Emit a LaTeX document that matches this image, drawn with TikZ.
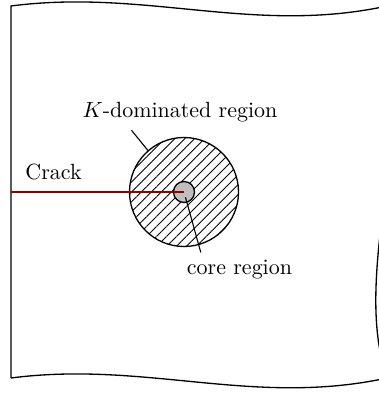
\documentclass[tikz,border=0pt]{standalone}
\usepackage{xcolor}
\usepackage{tikz}
\usetikzlibrary{patterns.meta}
\definecolor{crackred}{RGB}{139,0,0}

\begin{document}
\begin{tikzpicture}[
        plate/.style={semithick},
        hatched/.style={pattern={Lines[angle=45, distance=3.2pt, line width=0.4pt]}},
        leader/.style={line width=0.5pt}]
    \clip (0,0) rectangle (6.064,6.288);
    % plate, cut on three sides
    \draw[plate] (0.176,0.24) -- (0.176,6.192)
        .. controls (2.4,6.48) and (4.16,5.68) .. (6.4,6.24)
        .. controls (6.528,4.048) and (5.6,1.648) .. (6.24,0.128);
    \draw[plate] (0.176,0.24)
        .. controls (2.4,0.528) and (4.16,-0.272) .. (6.4,0.288);
    % zones at the crack tip
    \node[circle, draw, semithick, hatched, minimum size=1.744cm, inner sep=0pt] (kzone) at (2.944,3.216) {};
    \node[circle, draw, semithick, fill=black!25, minimum size=0.336cm, inner sep=0pt] (core) at (2.944,3.216) {};
    \coordinate (mouth) at (0.176,3.216);
    \draw[crackred, line width=1pt] (mouth) -- (core.center);
    % labels
    \node (cracklab) at (0.856,3.528) {Crack};
    \node (klab) at (2.88,4.486) {$K$-dominated region};
    \node (corelab) at (3.832,1.974) {core region};
    \draw[leader] (kzone.131) -- (klab.200);
    \draw[leader, shorten <=2.5pt] (core.center) -- (corelab.156);
\end{tikzpicture}
\end{document}
